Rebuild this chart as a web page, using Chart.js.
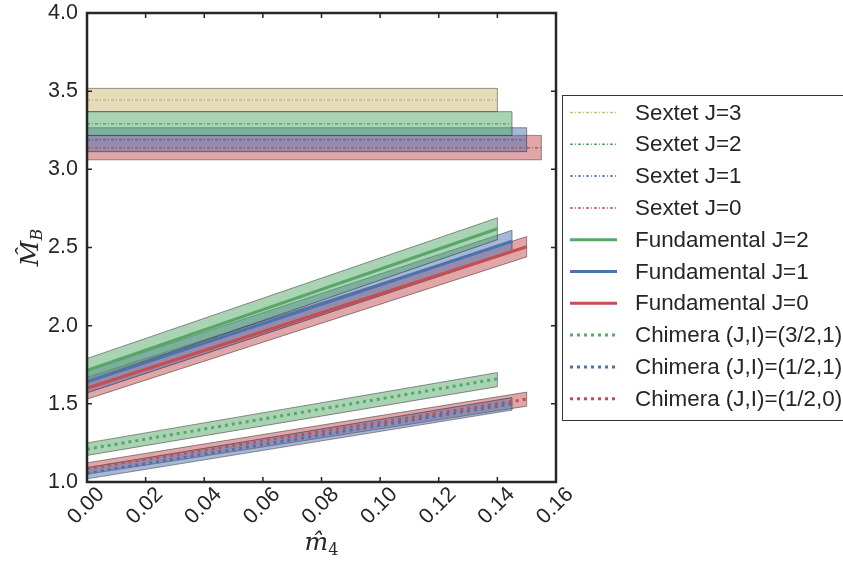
<!DOCTYPE html>
<html>
<head>
<meta charset="utf-8">
<script src="https://cdn.jsdelivr.net/npm/chart.js@4.4.0/dist/chart.umd.min.js"></script>
<style>
    html, body { margin: 0; padding: 0; background: #fff; }
</style>
</head>
<body>
<canvas id="chart" width="843" height="562"></canvas>
<script>
// Axes
const xTickValues = [0, 0.02, 0.04, 0.06, 0.08, 0.10, 0.12, 0.14, 0.16];
const yTickValues = [1.0, 1.5, 2.0, 2.5, 3.0, 3.5, 4.0];

// Sextet (constant masses) : J=3, J=2, J=1, J=0
const sextetLabels = ['Sextet J=3', 'Sextet J=2', 'Sextet J=1', 'Sextet J=0'];
const sextetMass = [3.443, 3.292, 3.190, 3.138];
const sextetLow = [3.369, 3.217, 3.113, 3.061];
const sextetHigh = [3.518, 3.369, 3.266, 3.217];
const sextetXEnd = [0.140, 0.145, 0.150, 0.155];

// Fundamental : J=2, J=1, J=0
const fundLabels = ['Fundamental J=2', 'Fundamental J=1', 'Fundamental J=0'];
const fundXEnd = [0.140, 0.145, 0.150];
const fundStart = [1.715, 1.640, 1.600];
const fundEnd = [2.620, 2.540, 2.505];
const fundStartLow = [1.645, 1.570, 1.530];
const fundStartHigh = [1.790, 1.710, 1.670];
const fundEndLow = [2.550, 2.470, 2.440];
const fundEndHigh = [2.690, 2.610, 2.570];

// Chimera : (3/2,1), (1/2,1), (1/2,0)
const chimLabels = ['Chimera (J,I)=(3/2,1)', 'Chimera (J,I)=(1/2,1)', 'Chimera (J,I)=(1/2,0)'];
const chimXEnd = [0.140, 0.145, 0.150];
const chimStart = [1.210, 1.056, 1.086];
const chimEnd = [1.660, 1.500, 1.530];
const chimStartLow = [1.170, 1.020, 1.050];
const chimStartHigh = [1.250, 1.092, 1.123];
const chimEndLow = [1.610, 1.460, 1.485];
const chimEndHigh = [1.700, 1.540, 1.575];

// Couleurs
const COLORS = {
    tan: '#ccb974',
    green: '#55a868',
    blue: '#4c72b0',
    red: '#c44e52'
};
const sextetColors = [COLORS.tan, COLORS.green, COLORS.blue, COLORS.red];
const fundColors = [COLORS.green, COLORS.blue, COLORS.red];
const chimColors = [COLORS.green, COLORS.blue, COLORS.red];

const SEXTET_DASH = [3, 2, 1, 2];
const CHIM_DASH = [3, 4];
const TEXT_COLOR = '#262626';
const SANS = '"Liberation Sans", Arial, Helvetica, sans-serif';

function withAlpha(hex, a) {
    const n = parseInt(hex.slice(1), 16);
    return 'rgba(' + (n >> 16) + ',' + ((n >> 8) & 255) + ',' + (n & 255) + ',' + a + ')';
}

// polygone fermé pour la bande d'erreur
function bandPoints(x1, lo0, hi0, lo1, hi1) {
    return [
        { x: 0, y: lo0 }, { x: x1, y: lo1 },
        { x: x1, y: hi1 }, { x: 0, y: hi0 }, { x: 0, y: lo0 }
    ];
}

function bandDataset(points, color) {
    return {
        data: points,
        borderColor: 'rgba(0,0,0,0.4)',
        borderWidth: 1,
        backgroundColor: withAlpha(color, 0.5),
        fill: 'shape',
        pointRadius: 0,
        tension: 0,
        order: 2
    };
}

function lineDataset(label, points, color, width, dash) {
    return {
        label: label,
        data: points,
        borderColor: color,
        borderWidth: width,
        borderDash: dash,
        borderCapStyle: 'butt',
        fill: false,
        pointRadius: 0,
        tension: 0,
        order: 1
    };
}

const datasets = [];
const legendItems = [];

sextetLabels.forEach((label, i) => {
    datasets.push(bandDataset(bandPoints(sextetXEnd[i], sextetLow[i], sextetHigh[i], sextetLow[i], sextetHigh[i]), sextetColors[i]));
    datasets.push(lineDataset(label, [{ x: 0, y: sextetMass[i] }, { x: sextetXEnd[i], y: sextetMass[i] }], sextetColors[i], 1.5, SEXTET_DASH));
    legendItems.push({ label: label, color: sextetColors[i], width: 1.5, dash: SEXTET_DASH });
});

fundLabels.forEach((label, i) => {
    datasets.push(bandDataset(bandPoints(fundXEnd[i], fundStartLow[i], fundStartHigh[i], fundEndLow[i], fundEndHigh[i]), fundColors[i]));
    datasets.push(lineDataset(label, [{ x: 0, y: fundStart[i] }, { x: fundXEnd[i], y: fundEnd[i] }], fundColors[i], 3, []));
    legendItems.push({ label: label, color: fundColors[i], width: 3, dash: [] });
});

chimLabels.forEach((label, i) => {
    datasets.push(bandDataset(bandPoints(chimXEnd[i], chimStartLow[i], chimStartHigh[i], chimEndLow[i], chimEndHigh[i]), chimColors[i]));
    datasets.push(lineDataset(label, [{ x: 0, y: chimStart[i] }, { x: chimXEnd[i], y: chimEnd[i] }], chimColors[i], 3, CHIM_DASH));
    legendItems.push({ label: label, color: chimColors[i], width: 3, dash: CHIM_DASH });
});

// Cadre + graduations vers l'intérieur
const framePlugin = {
    id: 'frame',
    afterDatasetsDraw(chart) {
        const { ctx, chartArea: a, scales } = chart;
        ctx.save();
        ctx.strokeStyle = TEXT_COLOR;
        ctx.lineWidth = 1.5;
        const len = 5;
        ctx.beginPath();
        xTickValues.forEach(v => {
            const px = scales.x.getPixelForValue(v);
            ctx.moveTo(px, a.bottom); ctx.lineTo(px, a.bottom - len);
            ctx.moveTo(px, a.top); ctx.lineTo(px, a.top + len);
        });
        yTickValues.forEach(v => {
            const py = scales.y.getPixelForValue(v);
            ctx.moveTo(a.left, py); ctx.lineTo(a.left + len, py);
            ctx.moveTo(a.right, py); ctx.lineTo(a.right - len, py);
        });
        ctx.stroke();
        ctx.lineWidth = 2.5;
        ctx.strokeRect(a.left, a.top, a.right - a.left, a.bottom - a.top);
        ctx.restore();
    }
};

// Légende à droite (coupée par le bord)
const legendPlugin = {
    id: 'sideLegend',
    afterDraw(chart) {
        const ctx = chart.ctx;
        const left = 562, top = 95, bottom = 420;
        ctx.save();
        ctx.fillStyle = '#fff';
        ctx.fillRect(left, top, 300, bottom - top);
        ctx.strokeStyle = '#333';
        ctx.lineWidth = 1;
        ctx.strokeRect(left + 0.5, top + 0.5, 300, bottom - top);
        ctx.font = '22.4px ' + SANS;
        ctx.textBaseline = 'middle';
        ctx.textAlign = 'left';
        legendItems.forEach((item, i) => {
            const y = 112.5 + i * 31.8;
            ctx.beginPath();
            ctx.strokeStyle = item.color;
            ctx.lineWidth = item.width;
            ctx.setLineDash(item.dash);
            ctx.lineCap = 'butt';
            ctx.moveTo(570, y);
            ctx.lineTo(617, y);
            ctx.stroke();
            ctx.setLineDash([]);
            ctx.fillStyle = TEXT_COLOR;
            ctx.fillText(item.label, 635, y + 1);
        });
        ctx.restore();
    }
};

// Titres des axes (avec indices)
const titlePlugin = {
    id: 'axisTitles',
    afterDraw(chart) {
        const ctx = chart.ctx;
        const a = chart.chartArea;
        ctx.save();
        ctx.fillStyle = TEXT_COLOR;
        ctx.textBaseline = 'alphabetic';
        const main = 'italic 25px "DejaVu Serif", serif';
        const sub = '16px "DejaVu Serif", serif';
        const subIt = 'italic 16px "DejaVu Serif", serif';
        // x : m̂4
        ctx.font = main;
        const wm = ctx.measureText('m\u0302').width;
        ctx.font = sub;
        const w4 = ctx.measureText('4').width;
        let x0 = (a.left + a.right) / 2 - (wm + w4) / 2;
        ctx.font = main;
        ctx.fillText('m\u0302', x0, 550);
        ctx.font = sub;
        ctx.fillText('4', x0 + wm, 555);
        // y : M̂B
        ctx.translate(38, (a.top + a.bottom) / 2);
        ctx.rotate(-Math.PI / 2);
        ctx.font = main;
        const wM = ctx.measureText('M\u0302').width;
        ctx.font = subIt;
        const wB = ctx.measureText('B').width;
        x0 = -(wM + wB) / 2;
        ctx.font = main;
        ctx.fillText('M\u0302', x0, 0);
        ctx.font = subIt;
        ctx.fillText('B', x0 + wM, 4);
        ctx.restore();
    }
};

new Chart(document.getElementById('chart'), {
    type: 'line',
    data: { datasets: datasets },
    options: {
        responsive: false,
        animation: false,
        layout: { padding: { top: 13, right: 287, left: 0, bottom: 0 } },
        plugins: {
            legend: { display: false },
            tooltip: { enabled: false }
        },
        scales: {
            x: {
                type: 'linear',
                min: 0,
                max: 0.16,
                grid: { display: false, drawTicks: false },
                border: { display: false },
                afterBuildTicks: s => { s.ticks = xTickValues.map(v => ({ value: v })); },
                afterFit: s => { s.height = 80; s.paddingLeft = 0; s.paddingRight = 0; },
                ticks: {
                    color: TEXT_COLOR,
                    font: { family: SANS, size: 21.5 },
                    minRotation: 45,
                    maxRotation: 45,
                    labelOffset: 14,
                    padding: 0,
                    callback: v => v.toFixed(2)
                }
            },
            y: {
                min: 1,
                max: 4,
                grid: { display: false, drawTicks: false },
                border: { display: false },
                afterBuildTicks: s => { s.ticks = yTickValues.map(v => ({ value: v })); },
                afterFit: s => { s.width = 87; s.paddingTop = 0; s.paddingBottom = 0; },
                ticks: {
                    color: TEXT_COLOR,
                    font: { family: SANS, size: 21.5 },
                    padding: 9,
                    callback: v => v.toFixed(1)
                }
            }
        }
    },
    plugins: [framePlugin, legendPlugin, titlePlugin]
});
</script>
</body>
</html>
